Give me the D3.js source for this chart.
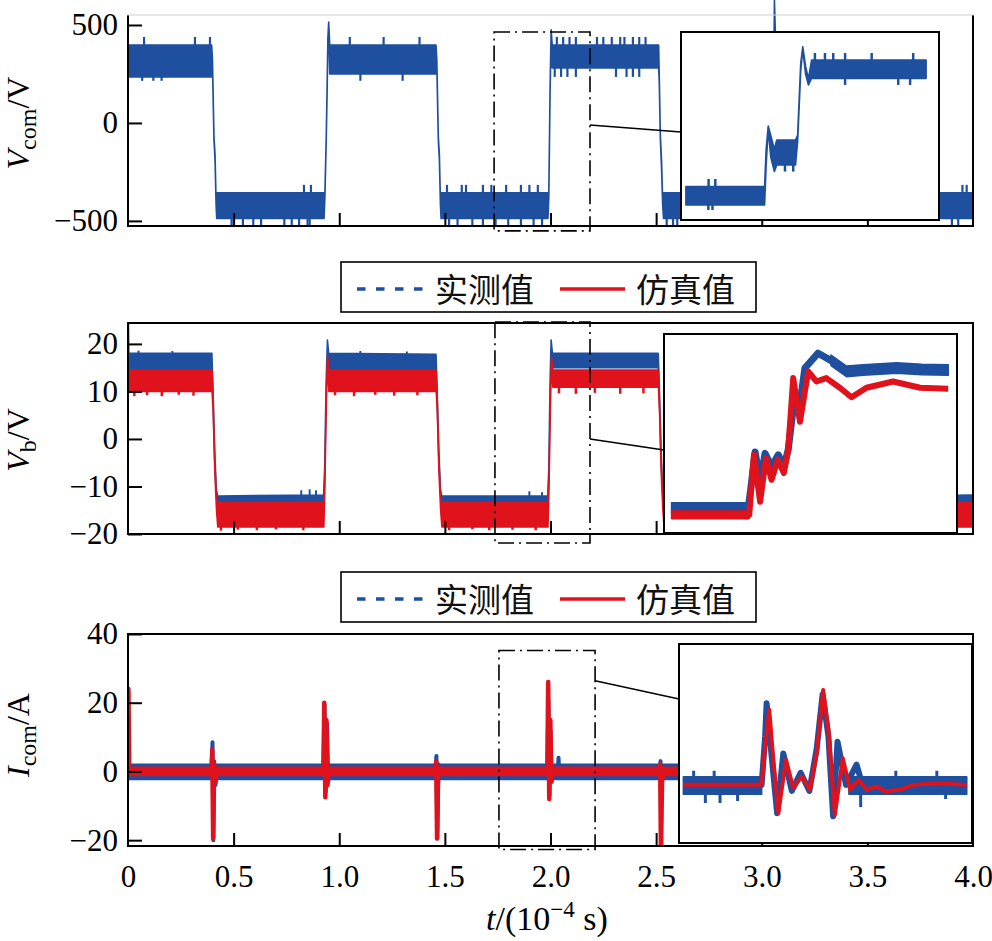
<!DOCTYPE html>
<html>
<head>
<meta charset="utf-8">
<script src="https://cdn.jsdelivr.net/npm/d3@7"></script>
<style>
    body { margin: 0; background: #fff; }
    svg { display: block; }
</style>
</head>
<body>
<div id="chart"></div>
<script>
// ---- data ----
var tTicks = [0, 0.5, 1.0, 1.5, 2.0, 2.5, 3.0, 3.5, 4.0];
var tTickLabels = ["0", "0.5", "1.0", "1.5", "2.0", "2.5", "3.0", "3.5", "4.0"];
var legendNames = ["实测值", "仿真值"];

var vcomTicks = [-500, 0, 500];
var vbTicks = [-20, -10, 0, 10, 20];
var icomTicks = [-20, 0, 20, 40];

// V_com measured, noise envelope [t, low, high]
var vcomBand = [
    [0.000, 235, 398], [0.396, 235, 398],
    [0.400, 290, 320], [0.407, -90, -70], [0.412, -190, -160], [0.417, -420, -400],
    [0.420, -487, -357], [0.928, -487, -357],
    [0.932, -380, -360], [0.938, -110, -90], [0.942, 120, 150], [0.946, 400, 430], [0.950, 505, 515],
    [0.955, 250, 398], [1.458, 250, 398],
    [1.462, 290, 320], [1.469, -90, -70], [1.474, -190, -160], [1.479, -420, -400],
    [1.482, -487, -357], [1.988, -487, -357],
    [1.992, -380, -360], [1.998, 150, 180], [2.003, 460, 475],
    [2.008, 281, 398], [2.512, 281, 398],
    [2.515, 200, 230], [2.520, -80, -60], [2.526, -240, -200], [2.531, -420, -400],
    [2.535, -487, -357], [3.048, -487, -357],
    [3.052, -300, -280], [3.060, 600, 628],
    [3.066, 281, 398], [3.578, 281, 398],
    [3.582, 200, 230], [3.595, -420, -400],
    [3.600, -487, -357], [4.000, -487, -357]
];
// V_com noise spikes [t, from, to]
var vcomSpikes = [
    [0.076, 398, 439], [0.317, 398, 439], [0.388, 398, 439],
    [0.067, 235, 215], [0.120, 235, 215], [0.159, 235, 215],
    [1.05, 398, 439], [1.21, 398, 439], [1.38, 398, 439], [1.10, 250, 215], [1.30, 250, 215],
    [2.03, 398, 439], [2.06, 398, 439], [2.09, 398, 439], [2.12, 398, 439], [2.22, 398, 439],
    [2.25, 398, 439], [2.29, 398, 439], [2.33, 398, 439], [2.35, 398, 439], [2.39, 398, 439],
    [2.42, 398, 439], [2.45, 398, 439],
    [2.02, 281, 235], [2.05, 281, 235], [2.08, 281, 235], [2.12, 281, 235], [2.31, 281, 235],
    [2.36, 281, 235], [2.39, 281, 235], [2.42, 281, 235],
    [0.833, -357, -316], [0.866, -357, -316],
    [1.51, -357, -316], [1.58, -357, -316], [1.60, -357, -316], [1.68, -357, -316], [1.72, -357, -316],
    [1.79, -357, -316], [1.86, -357, -316], [1.90, -357, -316], [1.94, -357, -316],
    [3.95, -357, -316], [3.97, -357, -316],
    [0.49, -487, -526], [0.50, -487, -526], [0.544, -487, -526], [0.593, -487, -526], [0.63, -487, -526],
    [0.74, -487, -526], [0.775, -487, -526], [0.81, -487, -526], [0.85, -487, -526], [0.86, -487, -526],
    [1.52, -487, -526], [1.56, -487, -526], [1.63, -487, -526], [1.68, -487, -526], [1.74, -487, -526],
    [1.80, -487, -526], [1.86, -487, -526], [1.92, -487, -526], [1.96, -487, -526],
    [2.55, -487, -526], [2.58, -487, -526], [2.60, -487, -526], [3.90, -487, -526], [3.93, -487, -526]
];

// V_b measured / simulated envelopes [t, low, high]
var vbMeasBand = [
    [0.000, 13.5, 18.0], [0.397, 13.5, 18.0],
    [0.402, 9, 11], [0.410, -4, -2], [0.418, -11.5, -10.5],
    [0.424, -14.3, -12.0], [0.926, -14.3, -11.8],
    [0.931, -8, -6], [0.938, 10, 12], [0.944, 19.5, 20.8], [0.950, 14.0, 18.0],
    [1.458, 14.0, 17.8],
    [1.463, 9, 11], [1.471, -4, -2], [1.479, -11.5, -10.5],
    [1.485, -14.3, -12.0], [1.987, -14.3, -12.0],
    [1.992, -8, -6], [1.998, 10, 12], [2.003, 19.5, 20.8], [2.009, 15.0, 18.0],
    [2.510, 15.0, 18.0],
    [2.515, 9, 11], [2.523, -4, -2], [2.531, -11.5, -10.5],
    [2.537, -14.3, -12.0], [3.046, -14.3, -12.0],
    [3.051, -8, -6], [3.057, 10, 12], [3.062, 19.5, 20.8], [3.068, 15.0, 18.0],
    [3.578, 15.0, 18.0],
    [3.583, 9, 11], [3.591, -4, -2], [3.599, -11.5, -10.5],
    [3.605, -14.3, -12.0], [4.000, -14.3, -11.8]
];
var vbSimBand = [
    [0.000, 0, 0], [0.002, 24.4, 24.4], [0.005, 10.0, 14.5], [0.398, 10.0, 14.5],
    [0.403, 6, 8], [0.411, -7, -5], [0.419, -15, -13],
    [0.425, -18.5, -13.4], [0.927, -18.5, -13.4],
    [0.932, -10, -8], [0.939, 8, 10], [0.945, 16, 17.5], [0.951, 10.0, 14.5],
    [1.459, 10.0, 14.5],
    [1.464, 6, 8], [1.472, -7, -5], [1.480, -15, -13],
    [1.486, -18.5, -13.4], [1.988, -18.5, -13.4],
    [1.993, -10, -8], [2.000, 8, 10], [2.005, 16, 17.3], [2.011, 10.9, 14.5],
    [2.511, 10.9, 14.5],
    [2.516, 6, 8], [2.524, -7, -5], [2.532, -15, -13],
    [2.538, -18.5, -13.4], [3.047, -18.5, -13.4],
    [3.052, -10, -8], [3.059, 8, 10], [3.064, 16, 17.3], [3.070, 10.9, 14.5],
    [3.579, 10.9, 14.5],
    [3.584, 6, 8], [3.592, -7, -5], [3.600, -15, -13],
    [3.606, -18.5, -13.4], [4.000, -18.5, -13.4]
];
// ragged edges of the V_b bands [t, from, to]
var vbMeasSpikes = [
    [0.05, 18, 18.6], [0.21, 18, 18.5], [1.10, 17.8, 18.5], [1.32, 17.8, 18.4],
    [0.82, -11.8, -10.8], [0.86, -11.8, -10.6], [0.89, -11.8, -10.8], [1.90, -12, -11], [1.96, -12, -11.2]
];
var vbSimSpikes = [
    [0.03, 10, 9], [0.09, 10, 9.2], [0.16, 10, 9], [0.24, 10, 9.3], [0.31, 10, 9.1],
    [0.98, 10, 9.2], [1.07, 10, 9], [1.17, 10, 9.3], [1.26, 10, 9.1], [1.37, 10, 9.2],
    [2.04, 10.9, 9.6], [2.12, 10.9, 9.5], [2.21, 10.9, 9.7], [2.33, 10.9, 9.5], [2.44, 10.9, 9.6],
    [0.44, -18.5, -19.3], [0.52, -18.5, -19.1], [0.61, -18.5, -19.2], [0.70, -18.5, -19.0], [0.83, -18.5, -19.2],
    [1.52, -18.5, -19.2], [1.63, -18.5, -19.0], [1.71, -18.5, -19.2], [1.82, -18.5, -19.1], [1.93, -18.5, -19.2]
];

// I_com: steady noise envelopes and switching transients [t, value]
var icomMeasBand = [[0.000, -2.3, 2.1], [4.000, -2.3, 2.1]];
var icomSimBand = [[0.004, -1.2, 1.2], [4.000, -1.2, 1.2]];
var icomMeasSpikes = [
    [[0.395, 0], [0.400, 8.5], [0.404, -20], [0.408, 3], [0.414, -4], [0.420, 0]],
    [[0.925, 0], [0.930, 19.5], [0.936, -6], [0.942, 14], [0.948, -3], [0.954, 0]],
    [[1.455, 0], [1.460, 4.5], [1.464, -19.5], [1.470, 2], [1.476, 0]],
    [[1.985, 0], [1.990, 21], [1.995, -7], [2.000, 12], [2.006, -3], [2.012, 0]],
    [[2.035, 0], [2.038, 4], [2.041, 0]],
    [[2.515, 0], [2.521, 3], [2.524, -8], [2.530, 0]],
    [[3.045, 0], [3.050, 20], [3.055, -7], [3.060, 22], [3.065, -7], [3.075, 0]],
    [[3.575, 0], [3.580, 6], [3.585, -18], [3.595, 0]]
];
var icomSimSpikes = [
    [[0.000, 0], [0.002, 24], [0.006, 0]],
    [[0.395, 0], [0.399, 6.3], [0.403, -19.5], [0.408, 2], [0.414, -3], [0.420, 0]],
    [[0.925, 0], [0.929, 20], [0.934, -7.5], [0.939, 15], [0.944, -4], [0.950, 0]],
    [[1.455, 0], [1.459, 3], [1.463, -19.5], [1.468, 1], [1.474, 0]],
    [[1.985, 0], [1.989, 26], [1.994, -8], [1.999, 15], [2.004, -3], [2.010, 0]],
    [[2.515, 0], [2.519, 2], [2.523, -24], [2.528, -3], [2.534, 0]],
    [[3.045, 0], [3.050, 19], [3.055, -7], [3.060, 24], [3.065, -7], [3.075, 0]],
    [[3.575, 0], [3.580, 5], [3.585, -18], [3.595, 0]]
];

// zoom windows (time range and value range of the dash-dot boxes)
var zoomWin1 = [1.733, 2.187, -551, 464];
var zoomWin2 = [1.737, 2.187, -21.9, 24.6];
var zoomWin3 = [1.756, 2.211, -22.7, 35.2];

// inset contents, x in % of the inset width
var vcomZoomBand = [
    [1.9, -504, -387], [32.4, -504, -387],
    [33.0, -250, -150], [33.8, -20, 0], [34.8, -200, -60], [36.2, -291, -150],
    [37.1, -249, -89], [44.4, -249, -89],
    [45.2, -100, -60], [46.4, 350, 400], [47.2, 490, 506],
    [48.3, 330, 380], [49.4, 262, 300], [50.6, 304, 421], [95.0, 304, 421]
];
var vcomZoomSpikes = [
    [10.7, -387, -338], [13.3, -387, -338], [10.6, -504, -536], [12.2, -504, -536],
    [51.9, 421, 466], [55.8, 421, 466], [59.0, 421, 466], [63.6, 421, 466], [73.9, 421, 466], [90.0, 421, 466],
    [63.6, 304, 262], [84.2, 304, 262], [88.8, 304, 262],
    [40.3, -249, -291], [43.5, -249, -291]
];
var vbMeasZoomBand = [[2.6, -14.1, -11.9], [28.8, -14.1, -11.9]];
var vbMeasZoomBand2 = [[57, 16.7, 18.9], [62.3, 14.4, 16.6], [68, 14.7, 16.9], [79.4, 15.1, 17.3], [88, 14.8, 17.0], [97.0, 14.7, 16.9]];
var vbSimZoomBand = [[2.6, -15.2, -13.6], [29.1, -15.2, -13.6]];
var vbMeasZoom = [
    [2.6, -12.8], [10, -12.6], [20, -12.9], [28.8, -12.8], [29.6, -9], [31.1, -1.3], [32.8, -7.5],
    [34.5, -1.6], [36.7, -4.4], [39.0, -1.9], [40.9, -4.4], [42.4, -0.8], [44.7, 10.9], [46.4, 8.8],
    [48.1, 16.2], [52.6, 19.3], [56.6, 17.9], [62.3, 15.5], [68.0, 15.8], [79.4, 16.2], [88, 15.9], [97.0, 15.8]
];
var vbSimZoom = [
    [2.6, -14.4], [29.1, -14.4], [29.9, -7.9], [30.7, -1.9], [32.8, -11.7], [34.8, -2.6], [36.7, -7.1],
    [38.8, -2.9], [40.9, -5.7], [42.4, -0.8], [44.1, 14.1], [46.4, 5.0], [49.2, 15.5], [52.0, 13.4],
    [55.4, 14.1], [60.0, 12.1], [64.0, 10.1], [69.1, 12.1], [78.2, 13.4], [87.4, 12.1], [97.0, 11.9]
];
var icomMeasZoomBand = [[1.5, -2.3, 2.0], [28.2, -2.3, 2.0]];
var icomMeasZoomBand2 = [[58, -2.3, 2.0], [98.2, -2.3, 2.0]];
var icomMeasZoomSpikes = [
    [5, 2, 3.5], [9, -2.3, -4.5], [12, 2, 3.5], [14, -2.3, -4.5], [20, -2.3, -4], [36.8, 2, 4],
    [62, -2.3, -5.5], [74, 2, 3.5], [88, 2, 3.5], [91, -2.3, -3.5]
];
var icomMeasZoom = [
    [1.5, 0], [28.2, 0], [29.4, 12], [29.9, 20.2], [31.5, 8], [33.5, -7], [35.6, 7.8], [38.5, -1.5],
    [41.5, 3], [44.5, -1.5], [47, 9], [49, 22.4], [51, 12], [52.6, -7.8], [54.1, 10.7], [57, 0],
    [60.6, 5], [63, -1], [70, -1.5], [80, 0], [98.2, 0]
];
var icomSimZoom = [
    [1.5, 0], [28.2, 0], [29.4, 9.5], [30.8, 18.6], [32.2, 6.2], [33.9, -7.0], [36.5, 6.2], [39.0, -0.8],
    [41.9, 2.1], [44.7, -1.2], [47.0, 7.8], [49.2, 23.5], [51.0, 13.6], [53.2, -7.4], [55.9, 6.6],
    [58.4, -1.2], [61.2, 1.2], [64.1, -1.2], [67.5, -0.4], [70.3, -1.6], [75.5, -1.2], [80.0, 0],
    [88.0, 0.4], [98.2, 0]
];

// ---- drawing ----
var BLUE = "#1f4f9f", RED = "#e0121c";
var SERIF = "'Liberation Serif', 'Times New Roman', serif";
var width = 992, height = 941;

var svg = d3.select("#chart").append("svg")
    .attr("width", width)
    .attr("height", height)
    .style("background", "#fff");

var x = d3.scaleLinear().domain([0, 4]).range([128, 973]);
var left = 128, right = 973;

var defs = svg.append("defs");
function addClip(id, x0, y0, w, h) {
    defs.append("clipPath").attr("id", id).append("rect")
        .attr("x", x0).attr("y", y0).attr("width", w).attr("height", h);
    return "url(#" + id + ")";
}

function band(xs, ys) {
    return d3.area().x(function (d) { return xs(d[0]); })
        .y0(function (d) { return ys(d[1]); })
        .y1(function (d) { return ys(d[2]); });
}
function trace(xs, ys) {
    return d3.line().x(function (d) { return xs(d[0]); })
        .y(function (d) { return ys(d[1]); });
}
function drawBand(g, data, xs, ys, color) {
    g.append("path").datum(data)
        .attr("d", band(xs, ys))
        .attr("fill", color)
        .attr("stroke", color)
        .attr("stroke-width", 1.6)
        .attr("stroke-linejoin", "round");
}
function drawSpikes(g, data, xs, ys, color, w) {
    g.selectAll(null).data(data).enter().append("line")
        .attr("x1", function (d) { return xs(d[0]); })
        .attr("x2", function (d) { return xs(d[0]); })
        .attr("y1", function (d) { return ys(d[1]); })
        .attr("y2", function (d) { return ys(d[2]); })
        .attr("stroke", color)
        .attr("stroke-width", w);
}
function drawTrace(g, data, xs, ys, color, w) {
    g.append("path").datum(data).attr("d", trace(xs, ys))
        .attr("fill", "none").attr("stroke", color).attr("stroke-width", w)
        .attr("stroke-linejoin", "round");
}

function drawFrame(y, top, bottom, ticks, showTop) {
    var g = svg.append("g");
    var yAxis = d3.axisLeft(y).tickValues(ticks).tickSize(-14).tickPadding(10).tickSizeOuter(0);
    var ga = g.append("g").attr("transform", "translate(" + left + ",0)").call(yAxis);
    ga.select(".domain").remove();
    ga.selectAll("line").attr("stroke", "#000").attr("stroke-width", 2);
    ga.selectAll("text").attr("font-family", SERIF).attr("font-size", 31).attr("fill", "#000");
    g.append("line").attr("x1", left).attr("x2", left).attr("y1", top).attr("y2", bottom)
        .attr("stroke", "#000").attr("stroke-width", 2);
    g.append("line").attr("x1", right).attr("x2", right).attr("y1", top).attr("y2", bottom)
        .attr("stroke", "#000").attr("stroke-width", 2);
    g.append("line").attr("x1", left - 1).attr("x2", right + 1).attr("y1", bottom).attr("y2", bottom)
        .attr("stroke", "#000").attr("stroke-width", 2);
    g.append("line").attr("x1", left - 1).attr("x2", right + 1).attr("y1", top).attr("y2", top)
        .attr("stroke", showTop ? "#000" : "#cfcfcf").attr("stroke-width", showTop ? 2 : 1);
    return g;
}

function drawXTicks(bottom, labels) {
    var xAxis = d3.axisBottom(x).tickValues(labels ? tTicks : tTicks.slice(1, -1))
        .tickSize(-13).tickPadding(19).tickSizeOuter(0)
        .tickFormat(function (d, i) { return labels ? tTickLabels[i] : ""; });
    var ga = svg.append("g").attr("transform", "translate(0," + bottom + ")").call(xAxis);
    ga.select(".domain").remove();
    ga.selectAll("line").attr("stroke", "#000").attr("stroke-width", 2);
    ga.selectAll("text").attr("font-family", SERIF).attr("font-size", 31).attr("fill", "#000");
    if (labels) {
        ga.selectAll(".tick").filter(function (d) { return d === 0 || d === 4; }).select("line").remove();
    }
}

function yLabel(cx, cy, main, sub, rest) {
    var t = svg.append("text")
        .attr("transform", "translate(" + cx + "," + cy + ") rotate(-90)")
        .attr("text-anchor", "middle")
        .attr("font-family", SERIF)
        .attr("font-size", 32)
        .attr("fill", "#000");
    t.append("tspan").attr("font-style", "italic").text(main);
    t.append("tspan").attr("font-size", 24).attr("dy", 7).text(sub);
    t.append("tspan").attr("dy", -7).text(rest);
}

function zoomBox(y, win) {
    svg.append("rect")
        .attr("x", x(win[0])).attr("y", y(win[3]))
        .attr("width", x(win[1]) - x(win[0]))
        .attr("height", y(win[2]) - y(win[3]))
        .attr("fill", "none")
        .attr("stroke", "#000")
        .attr("stroke-width", 1.6)
        .attr("stroke-dasharray", "16,5,2,5");
}

function inset(id, box, yDomain) {
    var xs = d3.scaleLinear().domain([0, 100]).range([box[0], box[0] + box[2]]);
    var ys = d3.scaleLinear().domain(yDomain).range([box[1] + box[3], box[1]]);
    svg.append("rect").attr("x", box[0]).attr("y", box[1]).attr("width", box[2]).attr("height", box[3])
        .attr("fill", "#fff");
    var g = svg.append("g").attr("clip-path", addClip(id, box[0], box[1], box[2], box[3]));
    return { g: g, xs: xs, ys: ys };
}
function insetBorder(box) {
    svg.append("rect").attr("x", box[0]).attr("y", box[1]).attr("width", box[2]).attr("height", box[3])
        .attr("fill", "none").attr("stroke", "#000").attr("stroke-width", 2);
}
function connector(x1, y1, x2, y2) {
    svg.append("line").attr("x1", x1).attr("y1", y1).attr("x2", x2).attr("y2", y2)
        .attr("stroke", "#000").attr("stroke-width", 1.5);
}

function legend(y0) {
    var g = svg.append("g");
    g.append("rect").attr("x", 341).attr("y", y0).attr("width", 415).attr("height", 50)
        .attr("fill", "#fff").attr("stroke", "#000").attr("stroke-width", 1.6);
    var cy = y0 + 27;
    g.append("line").attr("x1", 357).attr("x2", 423).attr("y1", cy).attr("y2", cy)
        .attr("stroke", BLUE).attr("stroke-width", 3.5).attr("stroke-dasharray", "8.5,10.5");
    g.append("line").attr("x1", 560).attr("x2", 625).attr("y1", cy).attr("y2", cy)
        .attr("stroke", RED).attr("stroke-width", 3.5);
    g.selectAll(null).data(legendNames).enter().append("text")
        .attr("x", function (d, i) { return i === 0 ? 435 : 636; })
        .attr("y", cy - 1)
        .attr("dominant-baseline", "central")
        .attr("font-family", "'Noto Sans CJK SC', sans-serif")
        .attr("font-size", 33)
        .attr("fill", "#111")
        .text(function (d) { return d; });
}

// ---------- panel 1 : V_com ----------
var y1 = d3.scaleLinear().domain([-526, 551]).range([226, 15]);
var p1 = svg.append("g").attr("clip-path", addClip("c1", left, -5, right - left, 231));
drawBand(p1, vcomBand, x, y1, BLUE);
drawSpikes(p1, vcomSpikes, x, y1, BLUE, 2.2);
drawFrame(y1, 15, 226, vcomTicks, false);
drawXTicks(226, false);
yLabel(29, 123, "V", "com", "/V");
zoomBox(y1, zoomWin1);
var box1 = [681, 32, 258, 188];
connector(x(zoomWin1[1]), y1(-10), box1[0], 132);
var in1 = inset("i1", box1, [-600, 600]);
drawBand(in1.g, vcomZoomBand, in1.xs, in1.ys, BLUE);
drawSpikes(in1.g, vcomZoomSpikes, in1.xs, in1.ys, BLUE, 2.5);
insetBorder(box1);

// ---------- panel 2 : V_b ----------
legend(262);
var y2 = d3.scaleLinear().domain([-20, 24.4]).range([534, 323]);
var p2 = svg.append("g").attr("clip-path", addClip("c2", left, 323, right - left, 211));
drawBand(p2, vbMeasBand, x, y2, BLUE);
drawSpikes(p2, vbMeasSpikes, x, y2, BLUE, 2);
drawBand(p2, vbSimBand, x, y2, RED);
drawSpikes(p2, vbSimSpikes, x, y2, RED, 2.5);
drawFrame(y2, 323, 534, vbTicks, true);
drawXTicks(534, false);
yLabel(29, 440, "V", "b", "/V");
zoomBox(y2, zoomWin2);
var box2 = [664, 334, 293, 199];
connector(x(zoomWin2[1]), y2(0), box2[0], 450);
var in2 = inset("i2", box2, [-18.2, 23.3]);
drawBand(in2.g, vbMeasZoomBand, in2.xs, in2.ys, BLUE);
drawBand(in2.g, vbMeasZoomBand2, in2.xs, in2.ys, BLUE);
drawTrace(in2.g, vbMeasZoom, in2.xs, in2.ys, BLUE, 7);
drawBand(in2.g, vbSimZoomBand, in2.xs, in2.ys, RED);
drawTrace(in2.g, vbSimZoom, in2.xs, in2.ys, RED, 6);
insetBorder(box2);

// ---------- panel 3 : I_com ----------
legend(572);
var y3 = d3.scaleLinear().domain([-21.7, 40]).range([846, 634]);
var p3 = svg.append("g").attr("clip-path", addClip("c3", left, 634, right - left, 212));
drawBand(p3, icomMeasBand, x, y3, BLUE);
p3.selectAll(null).data(icomMeasSpikes).enter().append("path")
    .attr("d", trace(x, y3)).attr("fill", "none").attr("stroke", BLUE)
    .attr("stroke-width", 4).attr("stroke-linejoin", "round");
drawBand(p3, icomSimBand, x, y3, RED);
p3.selectAll(null).data(icomSimSpikes).enter().append("path")
    .attr("d", trace(x, y3)).attr("fill", "none").attr("stroke", RED)
    .attr("stroke-width", 4.5).attr("stroke-linejoin", "round");
drawFrame(y3, 634, 846, icomTicks, true);
drawXTicks(846, true);
yLabel(29, 735, "I", "com", "/A");
zoomBox(y3, zoomWin3);
var box3 = [679, 644, 293, 199];
connector(x(zoomWin3[1]), y3(26.4), box3[0], 699);
var in3 = inset("i3", box3, [-14.4, 34.9]);
drawBand(in3.g, icomMeasZoomBand, in3.xs, in3.ys, BLUE);
drawBand(in3.g, icomMeasZoomBand2, in3.xs, in3.ys, BLUE);
drawSpikes(in3.g, icomMeasZoomSpikes, in3.xs, in3.ys, BLUE, 3);
drawTrace(in3.g, icomMeasZoom, in3.xs, in3.ys, BLUE, 6);
drawTrace(in3.g, icomSimZoom, in3.xs, in3.ys, RED, 4);
insetBorder(box3);

// x title
var xt = svg.append("text")
    .attr("x", 547).attr("y", 930)
    .attr("text-anchor", "middle")
    .attr("font-family", SERIF)
    .attr("font-size", 34)
    .attr("fill", "#000");
xt.append("tspan").attr("font-style", "italic").text("t");
xt.append("tspan").text("/(10");
xt.append("tspan").attr("font-size", 23).attr("dy", -13).text("−4");
xt.append("tspan").attr("dy", 13).text(" s)");
</script>
</body>
</html>
